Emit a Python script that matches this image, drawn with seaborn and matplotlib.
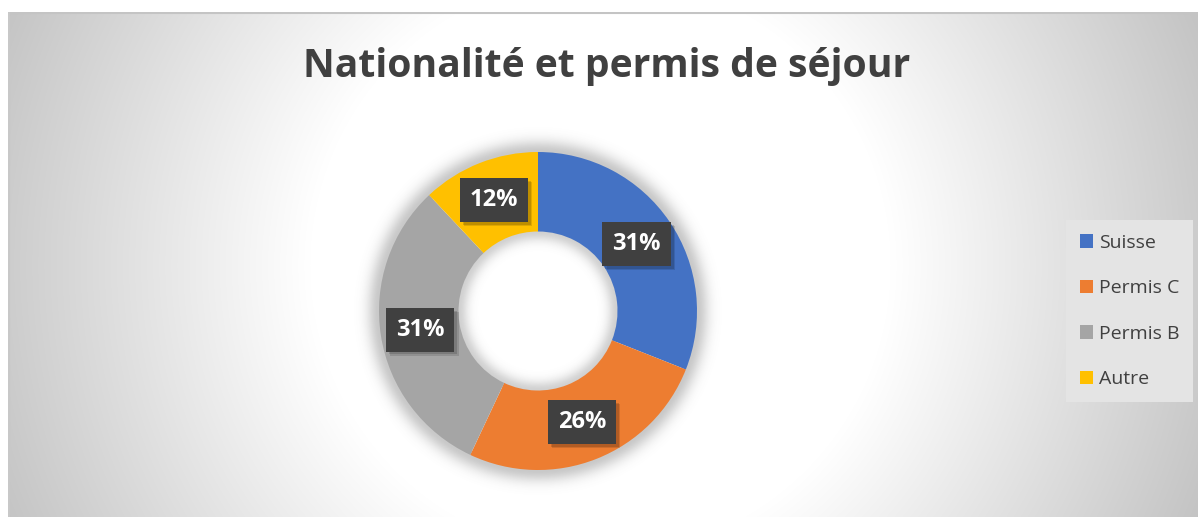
import numpy as np
import matplotlib
matplotlib.use("Agg")
import matplotlib.pyplot as plt
import matplotlib.patheffects as pe
import seaborn as sns

# ---- data ----
categories = ["Suisse", "Permis C", "Permis B", "Autre"]
shares = [31, 26, 31, 12]
colors_hex = ["#4472C4", "#ED7D31", "#A5A5A5", "#FFC000"]
title = "Nationalité et permis de séjour"

sns.set_theme(style="white")
plt.rcParams["font.family"] = ["Open Sans", "DejaVu Sans"]
palette = sns.color_palette(colors_hex)

W, H = 1198, 517
fig = plt.figure(figsize=(W / 100, H / 100), dpi=100)
fig.patch.set_facecolor("white")

# ---- background radial gradient (chart area) ----
x0, y0 = 8, 12  # chart area left / top in px
bg = fig.add_axes([x0 / W, 0, (W - x0) / W, (H - y0) / H])
gw, gh = W - x0, H - y0
yy, xx = np.mgrid[0:gh, 0:gw]
cx, cy = 600 - x0, 265 - y0
d = np.hypot(xx - cx, yy - cy)
t = np.clip((d - 290) / (660 - 290), 0, 1)
v = 1 - 0.24 * t
img = np.dstack([v, v, v])
bg.imshow(img, extent=[0, gw, gh, 0], aspect="auto", interpolation="bilinear")
bg.set_xlim(0, gw)
bg.set_ylim(gh, 0)
bg.set_axis_off()
bg.plot([0, gw], [0.5, 0.5], color="#c4c4c4", lw=1.5)
bg.plot([0.5, 0.5], [0, gh], color="#c8c8c8", lw=1.5)

# ---- donut ----
pcx, pcy, R = 538, 311, 159
ext = 1.25
size = 2 * ext * R
ax = fig.add_axes([(pcx - size / 2) / W, (H - pcy - size / 2) / H, size / W, size / H])
ax.set_xlim(-ext, ext)
ax.set_ylim(-ext, ext)
ax.set_axis_off()
ax.patch.set_alpha(0)

# soft shadow around ring and inside hole
n = 600
gy, gx = np.mgrid[-ext:ext:n * 1j, -ext:ext:n * 1j]
r = np.hypot(gx, gy)
s = 0.075
alpha = np.where(r > 0.97, 0.33 * np.exp(-(np.clip(r - 1, 0, None) / s) ** 2), 0)
alpha = alpha + np.where(r < 0.53, 0.28 * np.exp(-(np.clip(0.5 - r, 0, None) / (s * 0.8)) ** 2), 0)
sh = np.zeros((n, n, 4))
sh[..., :3] = 0.35
sh[..., 3] = alpha
ax.imshow(sh, extent=[-ext, ext, -ext, ext], origin="lower", zorder=0, interpolation="bilinear")

wedges, texts, autotexts = ax.pie(
    shares,
    colors=palette,
    startangle=90,
    counterclock=False,
    radius=1,
    autopct=lambda p: f"{p:.0f}%",
    pctdistance=0.75,
    wedgeprops=dict(width=0.5, linewidth=0, edgecolor="none"),
    textprops=dict(color="white", fontsize=17, fontweight="bold"),
)
for w in wedges:
    w.set_zorder(2)
for at in autotexts:
    at.set_zorder(5)
    at.set_bbox(dict(boxstyle="square,pad=0.42", fc="#404040", ec="none", lw=0))
    at.get_bbox_patch().set_path_effects([
        pe.SimplePatchShadow(offset=(3, -3), shadow_rgbFace="black", alpha=0.12),
        pe.SimplePatchShadow(offset=(2, -2), shadow_rgbFace="black", alpha=0.15),
        pe.Normal(),
    ])
ax.set_aspect("auto")

# ---- title ----
fig.text(607 / W, 1 - 77 / H, title, ha="center", va="baseline",
         fontsize=28.2, fontweight="bold", color="#404040")

# ---- legend ----
leg = fig.legend(
    wedges, categories,
    loc="center left",
    bbox_to_anchor=(1066 / W, 1 - 311 / H),
    frameon=True, fancybox=False,
    fontsize=14,
    handlelength=0.7, handleheight=0.7,
    handletextpad=0.3,
    labelspacing=1.42,
    borderpad=0.7,
    borderaxespad=0,
)
leg.get_frame().set_facecolor("#e4e4e4")
leg.get_frame().set_edgecolor("none")
leg.get_frame().set_alpha(1)
for txt in leg.get_texts():
    txt.set_color("#404040")

fig.savefig("out.png", dpi=100)
